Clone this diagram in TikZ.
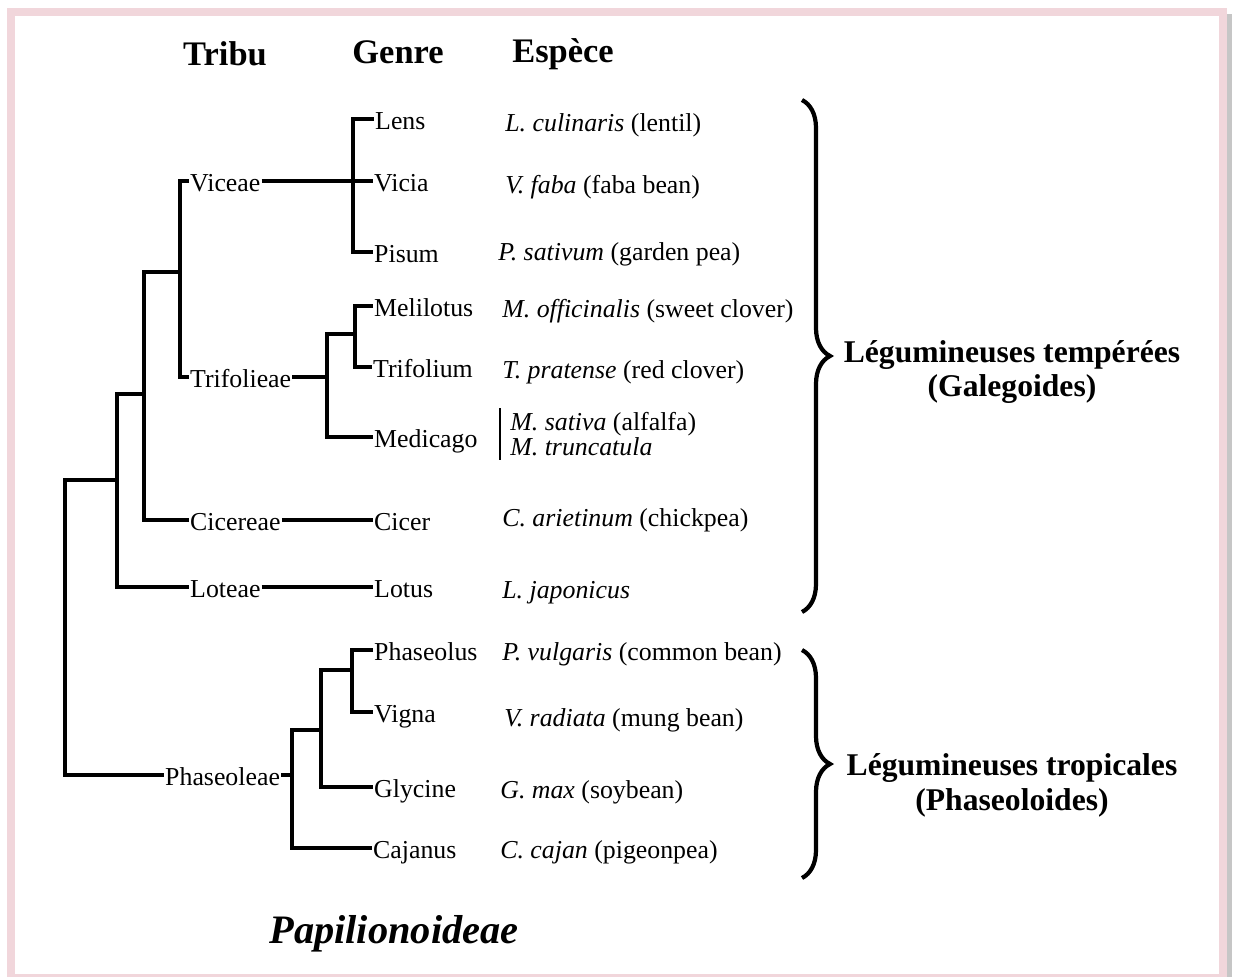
\documentclass[tikz,border=0pt]{standalone}
\usepackage{fontspec}
\setmainfont{Liberation Serif}
\usetikzlibrary{decorations.pathreplacing}
\definecolor{framepink}{RGB}{241,214,219}
\tikzset{
    phylo head/.style={
        anchor=base,
        inner sep=0pt,
        font=\fontsize{19.6}{22}\selectfont\bfseries
    },
    phylo tribe/.style={
        anchor=west,
        inner xsep=0.5pt,
        inner ysep=0pt,
        text height=12.5pt,
        text depth=0pt,
        font=\fontsize{14.7}{17}\selectfont
    },
    phylo genus/.style={phylo tribe},
    phylo species/.style={
        anchor=base west,
        inner sep=0pt,
        font=\fontsize{14.7}{17}\selectfont
    },
    phylo group/.style={
        align=center,
        font=\fontsize{18}{19.9}\selectfont\bfseries
    },
    phylo branch/.style={line width=2.1pt},
    phylo branch heavy/.style={line width=2.7pt},
    phylo brace/.style={decorate, decoration={brace, amplitude=0.56cm}, line width=2.4pt},
    phylo bar/.style={line width=1.2pt}
}

\begin{document}
\begin{tikzpicture}[x=0.02cm,y=-0.02cm]
    \useasboundingbox (0,0) rectangle (1234,977);
    % frame
    \fill[framepink] (7,8) rectangle (1227,16);
    \fill[framepink] (7,8) rectangle (15,977);
    \fill[framepink] (1219,8) rectangle (1227,977);
    \fill[framepink] (15,974) rectangle (1219,977);
    \fill[gray!45] (1227,14) rectangle (1232,977);

    \node[phylo head] (hTribu) at (225,65) {Tribu};
    \node[phylo head] (hGenre) at (398,63) {Genre};
    \node[phylo head] (hEspece) at (563,62) {Espèce};

    % tribes
    \node[phylo tribe] (tViceae) at (189,181) {Viceae};
    \node[phylo tribe] (tTrifolieae) at (189,377) {Trifolieae};
    \node[phylo tribe] (tCicereae) at (189,520) {Cicereae};
    \node[phylo tribe] (tLoteae) at (189,587) {Loteae};
    \node[phylo tribe] (tPhaseoleae) at (164,775) {Phaseoleae};

    % genera
    \node[phylo genus] (gLens) at (374,119) {Lens};
    \node[phylo genus] (gVicia) at (373,181) {Vicia};
    \node[phylo genus] (gPisum) at (373,252) {Pisum};
    \node[phylo genus] (gMelilotus) at (373,306) {Melilotus};
    \node[phylo genus] (gTrifolium) at (372,367) {Trifolium};
    \node[phylo genus] (gMedicago) at (373,437) {Medicago};
    \node[phylo genus] (gCicer) at (373,520) {Cicer};
    \node[phylo genus] (gLotus) at (373,587) {Lotus};
    \node[phylo genus] (gPhaseolus) at (373,650) {Phaseolus};
    \node[phylo genus] (gVigna) at (373,712) {Vigna};
    \node[phylo genus] (gGlycine) at (373,787) {Glycine};
    \node[phylo genus] (gCajanus) at (372,848) {Cajanus};

    % species
    \node[phylo species] (sCulinaris) at (505,131) {\textit{L. culinaris} (lentil)};
    \node[phylo species] (sFaba) at (505,193) {\textit{V. faba} (faba bean)};
    \node[phylo species] (sSativum) at (498,260) {\textit{P. sativum} (garden pea)};
    \node[phylo species] (sOfficinalis) at (502,317) {\textit{M. officinalis} (sweet clover)};
    \node[phylo species] (sPratense) at (502,378) {\textit{T. pratense} (red clover)};
    \node[phylo species, anchor=west, align=left, inner xsep=5.7pt, inner ysep=2pt,
          font=\fontsize{14.7}{14.2}\selectfont] (sMedicago) at (500,434)
          {\textit{M. sativa} (alfalfa)\\\textit{M. truncatula}};
    \node[phylo species] (sArietinum) at (502,526) {\textit{C. arietinum} (chickpea)};
    \node[phylo species] (sJaponicus) at (502,598) {\textit{L. japonicus}};
    \node[phylo species] (sVulgaris) at (502,660) {\textit{P. vulgaris} (common bean)};
    \node[phylo species] (sRadiata) at (504,726) {\textit{V. radiata} (mung bean)};
    \node[phylo species] (sMax) at (500,798) {\textit{G. max} (soybean)};
    \node[phylo species] (sCajan) at (500,858) {\textit{C. cajan} (pigeonpea)};
    \draw[phylo bar] (sMedicago.north west) -- (sMedicago.south west);

    % junctions
    \coordinate (kRoot) at (65,775);
    \coordinate (kB) at (117,480);
    \coordinate (kC) at (144,394);
    \coordinate (kD) at (180,272);
    \coordinate (kVic) at (353,181);
    \coordinate (kTrif) at (327,377);
    \coordinate (kMel) at (355,334);
    \coordinate (kPha) at (292,775);
    \coordinate (kP2) at (321,730);
    \coordinate (kP3) at (352,670);

    \draw[phylo branch heavy] (tViceae.west) -| (kD) |- (tTrifolieae.west);
    \draw[phylo branch heavy] (kD) -| (kC);
    \draw[phylo branch heavy] (kC) |- (tCicereae.west);
    \draw[phylo branch] (kC) -| (kB) |- (tLoteae.west);
    \draw[phylo branch] (kB) -| (kRoot) -- (tPhaseoleae.west);

    \draw[phylo branch heavy] (tViceae.east) -- (gVicia.west);
    \draw[phylo branch heavy] (gLens.west) -| (kVic) |- (gPisum.west);
    \draw[phylo branch heavy] (tTrifolieae.east) -- (kTrif);
    \draw[phylo branch heavy] (gMelilotus.west) -| (kMel) |- (gTrifolium.west);
    \draw[phylo branch heavy] (kMel) -| (kTrif);
    \draw[phylo branch] (kTrif) |- (gMedicago.west);
    \draw[phylo branch heavy] (tCicereae.east) -- (gCicer.west);
    \draw[phylo branch] (tLoteae.east) -- (gLotus.west);

    \draw[phylo branch] (tPhaseoleae.east) -- (kPha);
    \draw[phylo branch heavy] (gPhaseolus.west) -| (kP3) |- (gVigna.west);
    \draw[phylo branch heavy] (kP3) -| (kP2) |- (gGlycine.west);
    \draw[phylo branch] (kP2) -| (kPha) |- (gCajanus.west);

    % groups
    \coordinate (bTempTop) at (802,100);
    \coordinate (bTempBot) at (802,612);
    \coordinate (bTropTop) at (802,650);
    \coordinate (bTropBot) at (802,878);
    \draw[phylo brace] (bTempTop) -- (bTempBot);
    \draw[phylo brace] (bTropTop) -- (bTropBot);
    \node[phylo group] (lTemp) at (1012,372) {Légumineuses tempérées\\(Galegoides)};
    \node[phylo group] (lTrop) at (1012,785) {Légumineuses tropicales\\(Phaseoloides)};

    \node[anchor=base, font=\fontsize{23}{26}\selectfont\bfseries\itshape] (lPapil) at (394,943) {Papilionoideae};
\end{tikzpicture}
\end{document}
